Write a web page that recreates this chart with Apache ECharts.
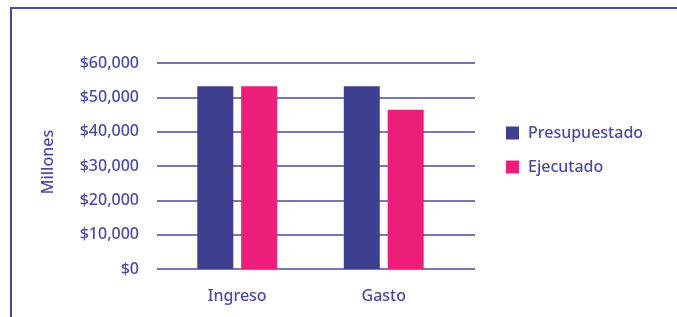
<!DOCTYPE html>
<html>
<head>
<meta charset="utf-8">
<script src="https://cdn.jsdelivr.net/npm/echarts@6/dist/echarts.min.js"></script>
<style>
    html, body { margin: 0; padding: 0; background: #fff; }
    #chart { width: 677px; height: 317px; }
</style>
</head>
<body>
<div id="chart"></div>
<script>
// datos del gráfico
const categories = ['Ingreso', 'Gasto'];
const presupuestado = [53200, 53200];
const ejecutado = [53200, 46400];
const seriesNames = ['Presupuestado', 'Ejecutado'];
const yTicks = [0, 10000, 20000, 30000, 40000, 50000, 60000];

const textColor = '#4b4b9d';
const font = 'Noto Sans';

const chartDom = document.getElementById('chart');
const myChart = echarts.init(chartDom);

const fmt = (v) => '$' + v.toLocaleString('en-US');

const option = {
    animation: false,
    color: ['#3f3f8f', '#ec1e79'],
    textStyle: { fontFamily: font },
    graphic: [
        {
            type: 'rect',
            shape: { x: 11, y: 8, width: 720, height: 400 },
            style: { fill: 'none', stroke: '#4b4b9d', lineWidth: 2 },
            silent: true,
        },
    ],
    legend: {
        orient: 'vertical',
        left: 501,
        top: 120,
        itemWidth: 13,
        itemHeight: 13,
        itemGap: 18,
        icon: 'rect',
        data: seriesNames,
        textStyle: { color: textColor, fontSize: 16, fontWeight: 500, fontFamily: font, padding: [0, 0, 0, 4] },
    },
    grid: [
        // grid de líneas horizontales
        { left: 157, right: 202, top: 63, bottom: 48 },
        // grid de barras
        { left: 164, right: 220, top: 63, bottom: 48 },
    ],
    xAxis: [
        {
            gridIndex: 0,
            type: 'category',
            data: categories,
            show: false,
        },
        {
            gridIndex: 1,
            type: 'category',
            data: categories,
            axisLine: { show: false },
            axisTick: { show: false },
            axisLabel: { color: textColor, fontSize: 16, fontWeight: 500, fontFamily: font, margin: 19 },
        },
    ],
    yAxis: [
        {
            gridIndex: 0,
            type: 'value',
            min: yTicks[0],
            max: yTicks[yTicks.length - 1],
            interval: yTicks[1] - yTicks[0],
            name: 'Millones',
            nameLocation: 'middle',
            nameRotate: 90,
            nameGap: 101,
            nameTextStyle: { color: textColor, fontSize: 16, fontWeight: 500, fontFamily: font, padding: [0, 0, 0, 8] },
            axisLine: { show: false },
            axisTick: { show: false },
            axisLabel: { color: textColor, fontSize: 16, fontWeight: 500, fontFamily: font, margin: 18, formatter: fmt },
            splitLine: { lineStyle: { color: '#4b4b9d', width: 1.6 } },
        },
        {
            gridIndex: 1,
            type: 'value',
            min: yTicks[0],
            max: yTicks[yTicks.length - 1],
            interval: yTicks[1] - yTicks[0],
            show: false,
            splitLine: { show: false },
        },
    ],
    series: [
        {
            name: seriesNames[0],
            type: 'bar',
            xAxisIndex: 1,
            yAxisIndex: 1,
            barWidth: 36,
            barGap: '22%',
            data: presupuestado,
        },
        {
            name: seriesNames[1],
            type: 'bar',
            xAxisIndex: 1,
            yAxisIndex: 1,
            barWidth: 36,
            data: ejecutado,
        },
    ],
};
myChart.setOption(option);
</script>
</body>
</html>
